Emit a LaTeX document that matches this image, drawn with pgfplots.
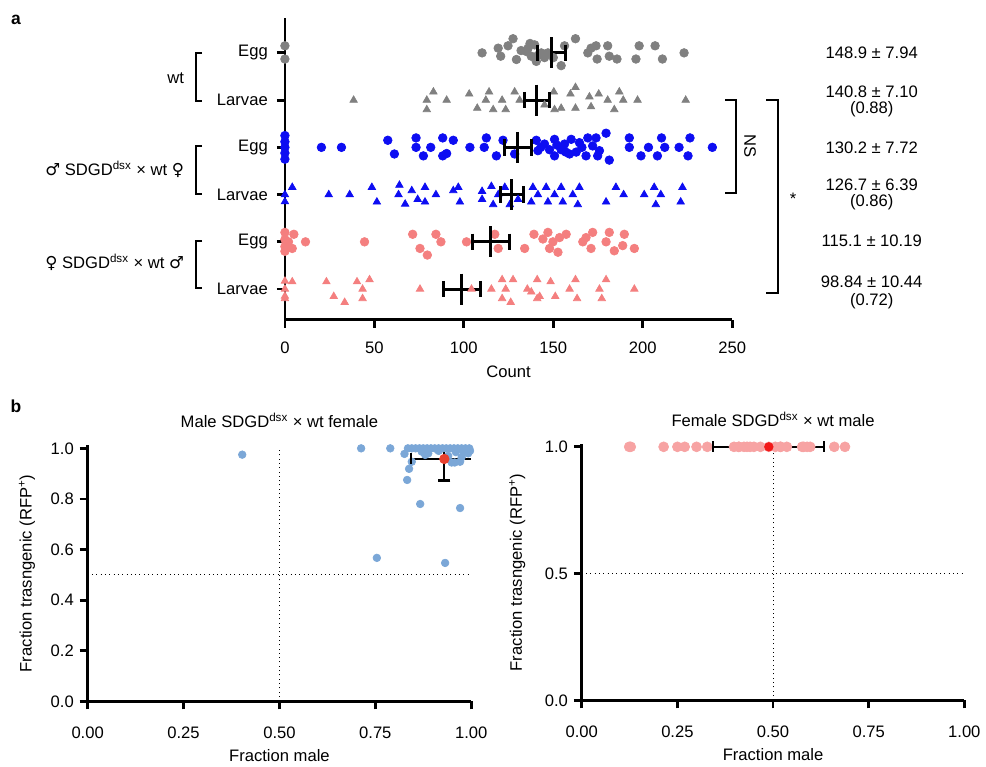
\documentclass[border=0pt]{standalone}
\usepackage{fontspec}
\setmainfont{Liberation Sans}
\newfontfamily\symfont{DejaVu Sans}
\usepackage{pgfplots}
\pgfplotsset{compat=1.18}

\definecolor{cgray}{HTML}{808080}
\definecolor{cblue}{HTML}{0D0DF2}
\definecolor{cpink}{HTML}{F47F7F}
\definecolor{lblue}{HTML}{7BA7D7}
\definecolor{lpink}{HTML}{F7A3A3}
\definecolor{mred}{HTML}{E8402E}
\definecolor{rred}{HTML}{F21818}

\pgfplotsset{
  figstyle/.style={
    scale only axis, clip=false,
    axis x line=bottom, axis y line=left,
    axis line style={line width=1.7pt, -},
    tick align=outside, major tick length=4.8pt,
    tick style={line width=1.7pt, black},
    /pgf/number format/assume math mode=true,
    tick label style={font=\fontsize{10}{12}\selectfont},
    label style={font=\fontsize{10}{12}\selectfont},
    title style={font=\fontsize{10}{12}\selectfont},
  },
}

\begin{document}
\begin{tikzpicture}
\path (0,0) rectangle (591.6pt,-457.2pt);

% ---------- panel a ----------
\begin{axis}[figstyle, at={(171.6pt,-192.6pt)}, anchor=south west,
  width=269.4pt, height=181.8pt,
  xmin=0, xmax=250, ymin=0.35, ymax=6.74,
  xtick={0,50,100,150,200,250},
  ytick={1,2,3,4,5,6}, yticklabels={Larvae,Egg,Larvae,Egg,Larvae,Egg},
  xlabel={Count}, xlabel style={at={(axis description cs:0.5,-0.172)}, anchor=center},
  yticklabel style={xshift=-2pt},
  xticklabel style={yshift=-5pt},
]
% wt egg
\addplot[only marks, mark=*, mark size=2.6pt, cgray] coordinates {
(0,6.15) (0,5.87) (110.2,6) (119.2,6.1) (124.7,6.15) (127.5,6.3) (120.6,5.93)
(129.4,5.86) (134.9,6.03) (135.9,6.1) (139.6,6.17) (137.7,5.93) (140.5,5.82)
(143.3,6) (145.1,5.9) (147,6) (132,6.05) (141.5,5.95) (137,6.2) (150,5.9)
(154.4,5.73) (156.3,6.15) (162.4,6.3) (169.3,6) (171.1,6.1) (173.9,6.15)
(174.5,5.87) (180.4,6.15) (181.3,5.93) (185.6,5.87) (196.2,5.87) (198,6.15)
(206.9,6.15) (211,5.87) (223.1,6)};
% wt larvae
\addplot[only marks, mark=triangle*, mark size=2.6pt, cgray] coordinates {
(38.4,5) (79.3,5) (79.3,4.8) (83,5.175) (90.4,5) (103,5.13) (107.5,4.83)
(112.3,5) (114.1,5.175) (116.4,4.8) (121.4,5) (123.4,4.8) (128.4,5.175)
(131.2,5) (145.1,4.9) (150.3,5.175) (150.7,4.8) (154.4,4.83) (159.6,5.13)
(162.4,5.27) (162.4,4.83) (170.2,5.07) (171.1,4.86) (175.4,5.13) (180.4,5)
(184.1,4.8) (186.9,5.175) (189.1,5) (197.1,5) (224,5)};
% male SDGD egg
\addplot[only marks, mark=*, mark size=2.6pt, cblue] coordinates {
(0,4.25) (0,4.12) (0,4) (0,3.88) (0,3.75) (20.4,4) (31.6,4) (57.5,4.15)
(61.2,3.86) (73.3,4.2) (73.3,4) (77.4,3.82) (81.5,4) (88.2,4.2) (88.2,3.82)
(90.4,3.87) (94.1,4.15) (103.4,4) (111.4,4) (112.6,4.2) (118.2,3.82)
(121.9,4.15) (128.4,3.86) (140.5,4.15) (141.4,3.93) (143,4) (145.1,4.07)
(147.9,3.95) (150.7,4.17) (150.7,3.82) (152,4.05) (154.4,3.95) (156.3,4.07)
(157,3.9) (160,4.17) (159.1,3.86) (162.8,3.9) (164.6,4.1) (166,4)
(169.3,4.2) (168.3,3.82) (172,4.03) (173.9,4.2) (174.8,3.82) (175.8,3.93)
(179.5,4.3) (181.3,3.73) (192.5,4.2) (192.5,4) (199,3.82) (203.2,4)
(208.2,3.82) (210.5,4.2) (212.3,4) (220.3,4) (225.3,3.82) (226.4,4.2)
(238.9,4)};
% male SDGD larvae
\addplot[only marks, mark=triangle*, mark size=2.6pt, cblue] coordinates {
(0,2.85) (0,3) (4.1,3.155) (24.5,3) (36.2,3) (48.6,3.155) (51.4,2.845)
(64,3.2) (63.5,3) (67.2,2.8) (70.9,3.085) (74.2,2.9) (78.3,3.155)
(78.3,2.845) (84.4,3) (94.1,3.085) (96.9,3.155) (97.8,2.845) (110.2,3.07)
(110.2,2.9) (115.4,3.175) (116.4,2.79) (119.2,3) (122.9,3.155) (125.7,2.79)
(130.3,2.9) (138.6,3.155) (137.7,2.845) (141.4,3) (146,3.155) (147,2.845)
(150.7,3) (154.4,3.155) (155.3,2.845) (160.9,3) (164.6,3.155) (163.7,2.79)
(179.5,2.845) (185,3.155) (189.3,3) (200.8,3) (206.4,3.155) (210.1,3)
(207.3,2.79) (222.2,3.155) (221.2,2.845)};
% female SDGD egg
\addplot[only marks, mark=*, mark size=2.6pt, cpink] coordinates {
(0,2.2) (0,2.05) (0,1.9) (0,1.8) (2,2) (5,2.16) (11.5,2) (4.1,1.86)
(44.5,2) (71.4,2.16) (75.5,1.86) (79.6,1.72) (84.4,2.16) (87.2,2)
(101.5,2) (117.3,2.16) (119.2,1.86) (134,1.86) (139.2,2.16) (144.2,2.06)
(147,2.2) (147.9,1.86) (149.8,2) (152.6,1.78) (153.5,2.09) (157.2,2.16)
(166.5,2) (168.3,2.09) (172,2.2) (171.1,1.86) (181.3,2.2) (179.5,2)
(184.1,1.81) (189.7,2.16) (188.8,1.92) (195.3,1.86)};
% female SDGD larvae
\addplot[only marks, mark=triangle*, mark size=2.6pt, cpink] coordinates {
(0,1.17) (0,1) (0,0.85) (0,0.8) (4.1,1.155) (23.2,1.155) (27.3,0.845)
(33.4,0.72) (40.3,1.155) (43.4,1) (43.4,0.8) (47.3,1.2) (75.5,1)
(104.3,1) (115.4,1) (121.4,1.2) (123.4,1) (121.4,0.8) (126.2,0.72)
(127.5,1.2) (135.5,1) (137.7,0.94) (141,1.2) (141,0.8) (142.4,0.845)
(148.5,1.155) (151.1,0.845) (159.1,1) (162.4,1.2) (163.3,0.8) (175.8,1)
(177.1,0.8) (179.5,1.2) (195.3,1)};
% mean +- SEM
\addplot[black, line width=1.8pt, unbounded coords=jump] coordinates {
(140.96,6) (156.84,6) (nan,nan) (133.70,5) (147.90,5) (nan,nan)
(122.48,4) (137.92,4) (nan,nan) (120.31,3) (133.09,3) (nan,nan)
(104.91,2) (125.29,2) (nan,nan) (88.40,1) (109.28,1)};
\addplot[only marks, mark=|, mark size=5pt, black, line width=1.8pt] coordinates {
(140.96,6) (156.84,6) (133.70,5) (147.90,5) (122.48,4) (137.92,4)
(120.31,3) (133.09,3) (104.91,2) (125.29,2) (88.40,1) (109.28,1)};
\addplot[only marks, mark=|, mark size=9.3pt, black, line width=1.8pt] coordinates {
(148.9,6) (140.8,5) (130.2,4) (126.7,3) (115.1,2) (98.84,1)};
\end{axis}

% ---------- panel b, left ----------
\begin{axis}[figstyle, at={(52.8pt,-422.4pt)}, anchor=south west,
  width=231pt, height=154.2pt,
  xmin=0, xmax=1, ymin=0, ymax=1.012,
  xtick={0,0.25,0.5,0.75,1}, xticklabels={0.00,0.25,0.50,0.75,1.00},
  ytick={0,0.2,0.4,0.6,0.8,1}, yticklabels={0.0,0.2,0.4,0.6,0.8,1.0},
  xlabel={Fraction male}, ylabel={Fraction trasngenic (RFP\textsuperscript{+})},
  title={Male SDGD\textsuperscript{dsx} × wt female},
  title style={at={(axis description cs:0.5,1.06)}, anchor=center},
  xlabel style={at={(axis description cs:0.5,-0.21)}, anchor=center},
  ylabel style={at={(axis description cs:-0.158,0.5)}, anchor=center},
  xticklabel style={yshift=-7pt},
]
\addplot[black, line width=0.6pt, dotted] coordinates {(0,0.5) (1,0.5)};
\addplot[black, line width=0.6pt, dotted] coordinates {(0.5,0) (0.5,1)};
\addplot[only marks, mark=*, mark size=2.3pt, lblue] coordinates {
(0.403,0.975) (0.713,1) (0.789,1) (0.826,0.978) (0.845,0.947) (0.838,0.919)
(0.833,0.875) (0.867,0.78) (0.971,0.764) (0.754,0.567) (0.932,0.547)
(0.835,1) (0.845,1) (0.855,1) (0.865,1) (0.875,1) (0.885,1) (0.895,1)
(0.905,1) (0.915,1) (0.925,1) (0.935,1) (0.945,1) (0.955,1) (0.965,1)
(0.975,1) (0.985,1) (0.995,1) (0.871,0.987) (0.880,0.974) (0.888,0.980)
(0.949,0.944) (0.957,0.944) (0.971,0.947) (0.992,0.98) (0.997,0.99)
(0.96,0.985) (0.98,0.985) (0.915,0.99) (0.94,0.97) (0.975,0.965)};
\addplot[black, line width=1.3pt] coordinates {(0.842,0.958) (1,0.958)};
\addplot[black, line width=1.3pt] coordinates {(0.93,0.873) (0.93,1.012)};
\addplot[only marks, mark=|, mark size=3.3pt, black, line width=1.3pt] coordinates {(0.842,0.958)};
\addplot[only marks, mark=-, mark size=3.6pt, black, line width=1.3pt] coordinates {(0.93,0.873)};
\addplot[only marks, mark=*, mark size=2.9pt, mred] coordinates {(0.93,0.958)};
\end{axis}

% ---------- panel b, right ----------
\begin{axis}[figstyle, at={(350.4pt,-421.8pt)}, anchor=south west,
  width=230.4pt, height=154.2pt,
  xmin=0, xmax=1, ymin=0, ymax=1.01,
  xtick={0,0.25,0.5,0.75,1}, xticklabels={0.00,0.25,0.50,0.75,1.00},
  ytick={0,0.5,1}, yticklabels={0.0,0.5,1.0},
  xlabel={Fraction male}, ylabel={Fraction trasngenic (RFP\textsuperscript{+})},
  title={Female SDGD\textsuperscript{dsx} × wt male},
  title style={at={(axis description cs:0.5,1.06)}, anchor=center},
  xlabel style={at={(axis description cs:0.5,-0.21)}, anchor=center},
  ylabel style={at={(axis description cs:-0.169,0.5)}, anchor=center},
  xticklabel style={yshift=-7pt},
]
\addplot[black, line width=0.6pt, dotted] coordinates {(0,0.5) (1,0.5)};
\addplot[black, line width=0.6pt, dotted] coordinates {(0.5,0) (0.5,1)};
\addplot[only marks, mark=*, mark size=3pt, lpink] coordinates {
(0.124,1) (0.128,1) (0.214,1) (0.25,1) (0.269,1) (0.30,1) (0.328,1)
(0.398,1) (0.41,1) (0.411,1) (0.424,1) (0.432,1) (0.44,1) (0.45,1)
(0.467,1) (0.489,1) (0.506,1) (0.519,1) (0.52,1) (0.536,1) (0.576,1)
(0.58,1) (0.589,1) (0.597,1) (0.66,1) (0.688,1)};
\addplot[black, line width=1.3pt] coordinates {(0.344,1) (0.634,1)};
\addplot[only marks, mark=|, mark size=3.3pt, black, line width=1.3pt] coordinates {(0.344,1) (0.634,1)};
\addplot[only marks, mark=*, mark size=2.6pt, rred] coordinates {(0.489,1)};
\end{axis}

% ---------- annotations ----------
\begin{scope}[x=0.6pt, y=-0.6pt, font=\fontsize{10}{12}\selectfont]
\node[font=\bfseries\fontsize{10.5}{12}\selectfont] at (16,20) {a};
\node[font=\bfseries\fontsize{10.5}{12}\selectfont] at (16,408) {b};
\draw[line width=1.2pt] (203,53) -- (197,53) -- (197,101) -- (203,101);
\draw[line width=1.2pt] (203,147) -- (197,147) -- (197,195) -- (203,195);
\draw[line width=1.2pt] (203,242) -- (197,242) -- (197,289) -- (203,289);
\node[anchor=east, inner sep=0pt] at (185,78) {wt};
\node[anchor=east, inner sep=0pt] at (185,170) {{\symfont ♂} SDGD\textsuperscript{dsx} × wt {\symfont ♀}};
\node[anchor=east, inner sep=0pt] at (185,263) {{\symfont ♀} SDGD\textsuperscript{dsx} × wt {\symfont ♂}};
\draw[line width=1.2pt] (728,100.7) -- (739,100.7) -- (739,194) -- (728,194);
\draw[line width=1.2pt] (769,100.7) -- (781,100.7) -- (781,294) -- (769,294);
\node[rotate=-90] at (753,147) {NS};
\node at (796,200) {*};
\node at (875,53) {148.9 ± 7.94};
\node at (875,92) {140.8 ± 7.10};
\node at (875,110) {(0.88)};
\node at (875,148) {130.2 ± 7.72};
\node at (875,185) {126.7 ± 6.39};
\node at (875,203) {(0.86)};
\node at (875,242) {115.1 ± 10.19};
\node at (875,283) {98.84 ± 10.44};
\node at (875,302) {(0.72)};
\end{scope}
\end{tikzpicture}
\end{document}
